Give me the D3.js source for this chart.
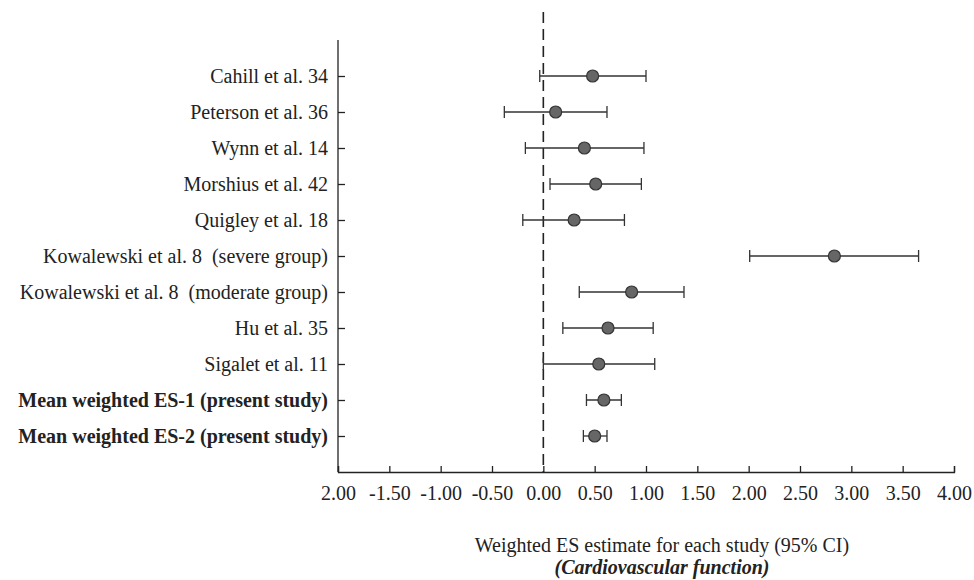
<!DOCTYPE html>
<html>
<head>
<meta charset="utf-8">
<script src="https://cdn.jsdelivr.net/npm/d3@7"></script>
<style>
  body { margin: 0; background: #fff; }
  text { font-family: "Liberation Serif", "Times New Roman", serif; fill: #222; }
</style>
</head>
<body>
<div id="forest"></div>
<script>
// study labels, top to bottom
var studies = ['Cahill et al. 34', 'Peterson et al. 36', 'Wynn et al. 14', 'Morshius et al. 42',
  'Quigley et al. 18', 'Kowalewski et al. 8\u00a0 (severe group)', 'Kowalewski et al. 8\u00a0 (moderate group)',
  'Hu et al. 35', 'Sigalet et al. 11', 'Mean weighted ES-1 (present study)', 'Mean weighted ES-2 (present study)'];
var boldRows = [false, false, false, false, false, false, false, false, false, true, true];
var es    = [0.48, 0.12, 0.40, 0.51, 0.30, 2.835, 0.86, 0.63, 0.54, 0.59, 0.50];
var ciLow = [-0.035, -0.38, -0.175, 0.065, -0.20, 2.01, 0.35, 0.19, 0.00, 0.42, 0.39];
var ciHigh= [1.00, 0.62, 0.98, 0.955, 0.79, 3.655, 1.37, 1.07, 1.085, 0.76, 0.62];
var xTicks = [-2, -1.5, -1, -0.5, 0, 0.5, 1, 1.5, 2, 2.5, 3, 3.5, 4];
var xTickLabels = ['2.00', '-1.50', '-1.00', '-0.50', '0.00', '0.50', '1.00', '1.50', '2.00', '2.50', '3.00', '3.50', '4.00'];

var W = 974, H = 580;
var svg = d3.select('#forest').append('svg')
  .attr('width', W).attr('height', H);

var x = d3.scaleLinear().domain([-2, 4]).range([338, 954]);
var y = d3.scaleLinear().domain([0, studies.length + 1]).range([40, 472]);

var rows = studies.map(function(s, i) {
  return { name: s, bold: boldRows[i], es: es[i], lo: ciLow[i], hi: ciHigh[i], pos: i + 1 };
});

// x axis, ticks pointing up
var xAxis = svg.append('g')
  .attr('transform', 'translate(0,' + y(studies.length + 1) + ')')
  .call(d3.axisBottom(x).tickValues(xTicks).tickSize(-6).tickPadding(14)
    .tickFormat(function(d, i) { return xTickLabels[i]; }));
xAxis.select('.domain').attr('stroke', '#222').attr('stroke-width', 1.3);
xAxis.selectAll('line').attr('stroke', '#222').attr('stroke-width', 1.3);
xAxis.selectAll('text').attr('font-size', 20).attr('fill', '#222')
  .style('font-family', '"Liberation Serif", serif');

// y axis with inward ticks, labels drawn separately
var yAxis = svg.append('g')
  .attr('transform', 'translate(' + x(-2) + ',0)')
  .call(d3.axisRight(y).tickValues(d3.range(1, studies.length + 1)).tickSize(7).tickFormat(''));
yAxis.select('.domain').attr('stroke', '#222').attr('stroke-width', 1.3).attr('d', 'M0,' + y(0) + 'V' + y(studies.length + 1));
yAxis.selectAll('line').attr('stroke', '#222').attr('stroke-width', 1.3);

svg.append('g').selectAll('text')
  .data(rows).enter().append('text')
  .attr('x', 328)
  .attr('y', function(d) { return y(d.pos); })
  .attr('dy', '0.35em')
  .attr('text-anchor', 'end')
  .attr('font-size', 20)
  .attr('font-weight', function(d) { return d.bold ? 'bold' : 'normal'; })
  .text(function(d) { return d.name; });

// zero line
svg.append('line')
  .attr('x1', x(0)).attr('x2', x(0))
  .attr('y1', 12).attr('y2', y(studies.length + 1))
  .attr('stroke', '#222').attr('stroke-width', 1.6)
  .attr('stroke-dasharray', '11,6');

// CI lines
var g = svg.append('g');
g.selectAll('.ci').data(rows).enter().append('line')
  .attr('x1', function(d) { return x(d.lo); })
  .attr('x2', function(d) { return x(d.hi); })
  .attr('y1', function(d) { return y(d.pos); })
  .attr('y2', function(d) { return y(d.pos); })
  .attr('stroke', '#333').attr('stroke-width', 1.3);

['lo', 'hi'].forEach(function(k) {
  g.selectAll('.cap' + k).data(rows).enter().append('line')
    .attr('x1', function(d) { return x(d[k]); })
    .attr('x2', function(d) { return x(d[k]); })
    .attr('y1', function(d) { return y(d.pos) - 6; })
    .attr('y2', function(d) { return y(d.pos) + 6; })
    .attr('stroke', '#333').attr('stroke-width', 1.3);
});

g.selectAll('circle').data(rows).enter().append('circle')
  .attr('cx', function(d) { return x(d.es); })
  .attr('cy', function(d) { return y(d.pos); })
  .attr('r', 6)
  .attr('fill', '#666').attr('stroke', '#333').attr('stroke-width', 1.2);

// axis title
svg.append('text')
  .attr('x', 662).attr('y', 552)
  .attr('text-anchor', 'middle').attr('font-size', 20)
  .text('Weighted ES estimate for each study (95% CI)');
svg.append('text')
  .attr('x', 662).attr('y', 574)
  .attr('text-anchor', 'middle').attr('font-size', 20)
  .attr('font-weight', 'bold').attr('font-style', 'italic')
  .text('(Cardiovascular function)');
</script>
</body>
</html>
